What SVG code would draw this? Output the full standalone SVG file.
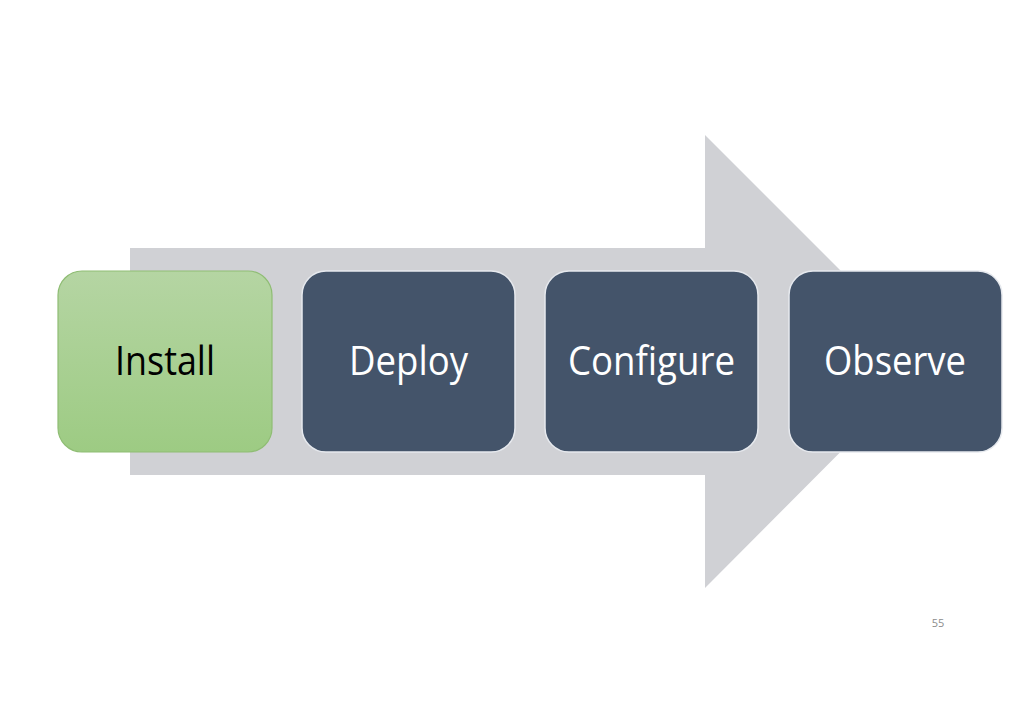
<svg xmlns="http://www.w3.org/2000/svg" width="1024" height="724" viewBox="0 0 1024 724">
<defs>
<linearGradient id="g" x1="0" y1="0" x2="0" y2="1">
<stop offset="0" stop-color="#b5d5a3"/>
<stop offset="1" stop-color="#9dcb83"/>
</linearGradient>
<style>
.lbl{font-family:"Open Sans","Noto Sans",sans-serif;font-size:40px;text-anchor:middle}
.dark{fill:#44546a;stroke:#e6e9ee;stroke-width:1.5}
</style>
</defs>
<rect width="1024" height="724" fill="#ffffff"/>
<g id="connectors">
<polygon points="130,248 705,248 705,135 931,361 705,588 705,475 130,475" fill="#d0d1d5"/>
</g>
<g id="install">
<rect x="58" y="271" width="214" height="181" rx="24" fill="url(#g)" stroke="#8fbd74" stroke-width="1.2"/>
<text class="lbl" x="165" y="375" fill="#000" textLength="100" lengthAdjust="spacingAndGlyphs">Install</text>
</g>
<g id="deploy">
<rect class="dark" x="302" y="271" width="213" height="181" rx="24"/>
<text class="lbl" x="408.5" y="375" fill="#fff" textLength="119" lengthAdjust="spacingAndGlyphs">Deploy</text>
</g>
<g id="configure">
<rect class="dark" x="545" y="271" width="213" height="181" rx="24"/>
<text class="lbl" x="651.5" y="375" fill="#fff" textLength="167" lengthAdjust="spacingAndGlyphs">Configure</text>
</g>
<g id="observe">
<rect class="dark" x="789" y="271" width="213" height="181" rx="24"/>
<text class="lbl" x="895" y="375" fill="#fff" textLength="142" lengthAdjust="spacingAndGlyphs">Observe</text>
</g>
<text x="938" y="627" font-family="Open Sans, sans-serif" font-size="11" fill="#8c8c8c" text-anchor="middle">55</text>
</svg>
